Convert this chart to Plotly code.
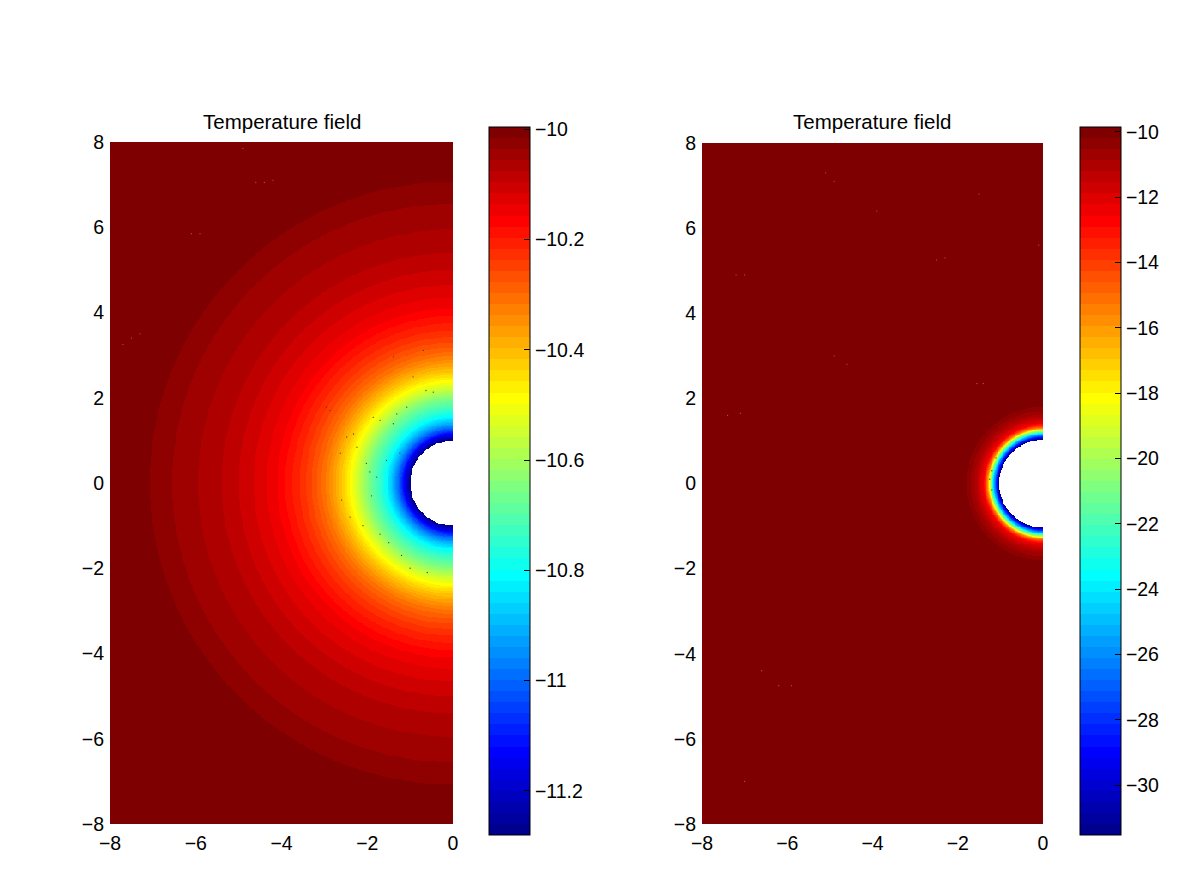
import numpy as np
import plotly.graph_objects as go

# Colour bar limits
left_limits = [-11.28, -9.996]
right_limits = [-31.53, -9.85]

# Radius where the colour changes, one per colour of the map, hottest side first
left_band_radii = [
    7.07, 6.55, 5.95, 5.40, 5.00, 4.65, 4.35, 4.10,
    3.92, 3.75, 3.58, 3.43, 3.30, 3.18, 3.07, 2.97,
    2.89, 2.81, 2.74, 2.67, 2.60, 2.54, 2.48, 2.42,
    2.36, 2.31, 2.25, 2.20, 2.15, 2.10, 2.05, 2.00,
    1.95, 1.89, 1.83, 1.78, 1.72, 1.67, 1.62, 1.57,
    1.54, 1.51, 1.47, 1.44, 1.41, 1.38, 1.35, 1.33,
    1.30, 1.28, 1.26, 1.23, 1.21, 1.19, 1.18, 1.16,
    1.14, 1.12, 1.10, 1.08, 1.06, 1.04, 1.02, 1.00,
]
right_band_radii = [
    1.80, 1.70, 1.62, 1.56, 1.51, 1.47, 1.43, 1.40,
    1.385, 1.37, 1.36, 1.35, 1.34, 1.33, 1.32, 1.31,
    1.30, 1.295, 1.29, 1.285, 1.28, 1.275, 1.27, 1.265,
    1.26, 1.255, 1.25, 1.245, 1.24, 1.235, 1.23, 1.22,
    1.215, 1.21, 1.205, 1.20, 1.195, 1.19, 1.185, 1.18,
    1.175, 1.17, 1.165, 1.16, 1.155, 1.15, 1.14, 1.13,
    1.125, 1.12, 1.115, 1.11, 1.105, 1.10, 1.09, 1.08,
    1.075, 1.07, 1.065, 1.06, 1.055, 1.05, 1.04, 1.03,
]

# Small mesh gaps that show through the field
left_dark_x = [-1.86, -1.70, -1.31, -1.08, -2.32, -2.48, -1.94, -1.78, -2.24, -2.95, -2.87, -1.39,
               -0.93, -0.63, -0.46, -0.69, -1.39, -2.63, -1.55, -1.24, -2.02,
               -2.40, -2.10, -1.70, -1.50, -1.20, -2.60, -1.00, -0.60, -1.90]
left_dark_y = [1.54, 1.47, 1.62, 1.78, 1.15, 1.08, 0.26, 0.14, 0.84, 1.78, 1.70, 1.39,
               2.49, 2.17, 2.13, 3.11, 2.96, 0.70, 0.53, 0.70, 0.46,
               -0.80, -1.00, -1.20, -1.40, -1.70, -0.40, -2.00, -2.10, -0.30]
left_light_x = [-4.6, -4.4, -4.2, -6.1, -5.9, -7.5, -7.7, -7.3, -4.9]
left_light_y = [7.05, 7.05, 7.1, 5.85, 5.85, 3.4, 3.25, 3.5, 7.85]
right_dark_x = [-1.2, -1.25, -1.2, -1.1]
right_dark_y = [0.3, 0.1, -0.15, 0.6]
right_light_x = [-5.1, -4.9, -7.2, -7.0, -7.4, -7.1, -4.9, -4.6, -2.5, -2.3, -3.9, -1.55, -1.4,
                 -6.6, -6.2, -5.9, -7.0, -1.5, -0.1]
right_light_y = [7.3, 7.1, 4.9, 4.9, 1.6, 1.65, 3.0, 2.8, 5.25, 5.3, 6.4, 2.35, 2.35,
                 -4.4, -4.75, -4.75, -7.0, 6.8, 5.6]

x_ticks = [-8, -6, -4, -2, 0]
y_ticks = [-8, -6, -4, -2, 0, 2, 4, 6, 8]
left_bar_ticks = [-11.2, -11, -10.8, -10.6, -10.4, -10.2, -10]
right_bar_ticks = [-30, -28, -26, -24, -22, -20, -18, -16, -14, -12, -10]

FONT = "Liberation Sans"
# the page adds an 8px body margin around the figure
PAGE_MARGIN = 8
FIG_W = 1184
FIG_H = 855


def px_x(p):
    return (p - PAGE_MARGIN) / FIG_W


def px_y(p):
    return 1 - (p - PAGE_MARGIN) / FIG_H


def jet_scale(n=64):
    # stepped jet, same as matlab's jet(64)
    stops = []
    for i in range(1, n + 1):
        t = i / n
        r = np.clip(min(4 * t - 1.5, -4 * t + 4.5), 0, 1)
        g = np.clip(min(4 * t - 0.5, -4 * t + 3.5), 0, 1)
        b = np.clip(min(4 * t + 0.5, -4 * t + 2.5), 0, 1)
        color = f"rgb({int(r * 255)},{int(g * 255)},{int(b * 255)})"
        stops.append([(i - 1) / n, color])
        stops.append([i / n, color])
    return stops


def band_field(band_radii, limits):
    # every cell takes the temperature of the colour band its radius falls in
    xs = np.linspace(-8, 0, 401)
    ys = np.linspace(-8, 8, 801)
    radius = np.hypot(*np.meshgrid(xs, ys))
    edges = np.array(band_radii)[::-1]
    level = np.searchsorted(edges, radius, side="right") - 1
    step = (limits[1] - limits[0]) / len(band_radii)
    z = limits[0] + (level + 0.5) * step
    z[level < 0] = np.nan
    return xs, ys, z


def field_trace(band_radii, limits, bar_ticks, xaxis, yaxis, bar_x):
    xs, ys, z = band_field(band_radii, limits)
    return go.Heatmap(
        x=xs, y=ys, z=z, xaxis=xaxis, yaxis=yaxis,
        zmin=limits[0], zmax=limits[1],
        colorscale=jet_scale(),
        hoverongaps=False,
        colorbar=dict(
            x=px_x(bar_x), xanchor="left", xpad=0,
            y=px_y(127), yanchor="top", ypad=0,
            len=708 / FIG_H, lenmode="fraction",
            thickness=41, thicknessmode="pixels",
            outlinecolor="black", outlinewidth=1,
            tickmode="array", tickvals=bar_ticks,
            ticks="inside", ticklen=6, tickcolor="black",
            tickprefix="\u2009\u200a",
            tickfont=dict(family=FONT, size=19.5, color="black"),
        ),
    )


def speck_trace(xs, ys, color, xaxis, yaxis):
    return go.Scatter(
        x=xs, y=ys, xaxis=xaxis, yaxis=yaxis, mode="markers", hoverinfo="skip", showlegend=False,
        marker=dict(size=1.3, color=color, line=dict(width=0)),
    )


fig = go.Figure()
fig.add_trace(field_trace(left_band_radii, left_limits, left_bar_ticks, "x", "y", 489))
fig.add_trace(field_trace(right_band_radii, right_limits, right_bar_ticks, "x2", "y2", 1080))
fig.add_trace(speck_trace(left_dark_x, left_dark_y, "#3a4a3a", "x", "y"))
fig.add_trace(speck_trace(left_light_x, left_light_y, "#c04a30", "x", "y"))
fig.add_trace(speck_trace(right_dark_x, right_dark_y, "#3a4a3a", "x2", "y2"))
fig.add_trace(speck_trace(right_light_x, right_light_y, "#c04a30", "x2", "y2"))

axis_style = dict(
    showgrid=False, zeroline=False, showline=False, ticks="", ticklabelstandoff=5,
    tickfont=dict(family=FONT, size=19.5, color="black"),
)
fig.update_layout(
    width=FIG_W, height=FIG_H,
    margin=dict(l=0, r=0, t=0, b=0, autoexpand=False),
    plot_bgcolor="white", paper_bgcolor="white",
    xaxis=dict(domain=[px_x(110), px_x(453)], range=[-8, 0], tickvals=x_ticks, anchor="y", **axis_style),
    yaxis=dict(domain=[px_y(824), px_y(142)], range=[-8, 8], tickvals=y_ticks, anchor="x", **axis_style),
    xaxis2=dict(domain=[px_x(702), px_x(1043)], range=[-8, 0], tickvals=x_ticks, anchor="y2", **axis_style),
    yaxis2=dict(domain=[px_y(824), px_y(143)], range=[-8, 8], tickvals=y_ticks, anchor="x2", **axis_style),
)

# Titles sit just above each panel
for center in [281.5, 872.5]:
    fig.add_annotation(
        text="Temperature field", xref="paper", yref="paper",
        x=px_x(center), xanchor="center", y=px_y(122), yanchor="middle", showarrow=False,
        font=dict(family=FONT, size=20.5, color="black"),
    )

fig.write_html("out.html")
